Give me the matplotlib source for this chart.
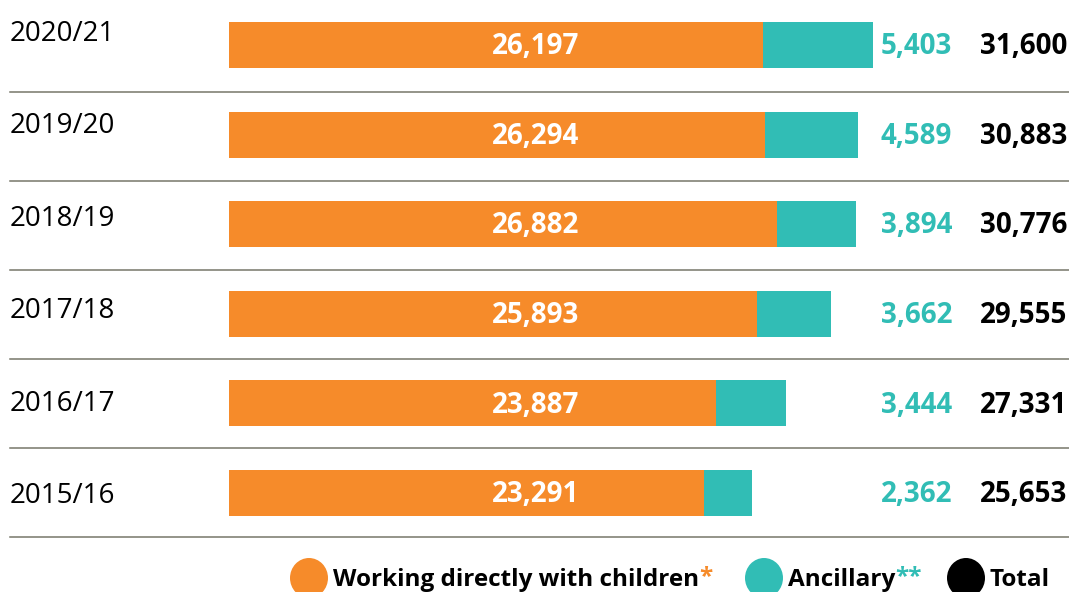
import matplotlib.pyplot as plt
from matplotlib.patches import Ellipse

years = ['2020/21', '2019/20', '2018/19', '2017/18', '2016/17', '2015/16']
direct = [26197, 26294, 26882, 25893, 23887, 23291]
ancillary = [5403, 4589, 3894, 3662, 3444, 2362]
totals = [31600, 30883, 30776, 29555, 27331, 25653]

orange = '#F68B2A'
teal = '#31BDB5'
line_col = '#76766a'

plt.rcParams['font.family'] = ['Open Sans', 'DejaVu Sans']

W, H = 1069, 592
fig = plt.figure(figsize=(W / 100, H / 100), dpi=100)
ax = fig.add_axes([0, 0, 1, 1])

# pixel -> data scale
s = 0.02038
x0 = 229
row = 89.6
y0 = 45
ax.set_xlim(-x0 / s, (W - x0) / s)
ax.set_ylim((H - y0) / row, -y0 / row)
ax.axis('off')

ypos = list(range(len(years)))
ax.barh(ypos, direct, height=0.513, color=orange, linewidth=0)
ax.barh(ypos, ancillary, left=direct, height=0.513, color=teal, linewidth=0)

for i in ypos:
    ly = (92 + 89 * i - y0) / row
    ax.plot([-219 / s, (W - x0) / s], [ly, ly], color=line_col, lw=1.1)
    ax.text(536 / W, i + 0.02, f'{direct[i]:,}', transform=ax.get_yaxis_transform(),
            ha='center', va='center', color='white', fontsize=20, fontweight='bold')
    ax.text(952 / W, i + 0.02, f'{ancillary[i]:,}', transform=ax.get_yaxis_transform(),
            ha='right', va='center', color=teal, fontsize=20, fontweight='bold')
    ax.text(1067 / W, i + 0.02, f'{totals[i]:,}', transform=ax.get_yaxis_transform(),
            ha='right', va='center', color='black', fontsize=20, fontweight='bold')
    fig.text(10 / W, 1 - (34 + 92.4 * i) / H, years[i], ha='left', va='center',
             fontsize=20, color='black')

# legend
leg = [(309, orange, 'Working directly with children', '*', orange),
       (764, teal, 'Ancillary', '**', teal),
       (966, 'black', 'Total', '', 'black')]
for cx, col, lab, star, scol in leg:
    fig.add_artist(Ellipse((cx / W, 1 - 578 / H), 38 / W, 40 / H,
                           transform=fig.transFigure, color=col, lw=0))
    t = fig.text((cx + 24) / W, 1 - 580 / H, lab, ha='left', va='center',
                 fontsize=17.5, fontweight='bold', color='black')
    if star:
        fig.canvas.draw()
        bb = t.get_window_extent()
        fig.text(bb.x1 / W, 1 - 577 / H, star, ha='left', va='center',
                 fontsize=17.5, fontweight='bold', color=scol)

fig.savefig('out.png', dpi=100)
